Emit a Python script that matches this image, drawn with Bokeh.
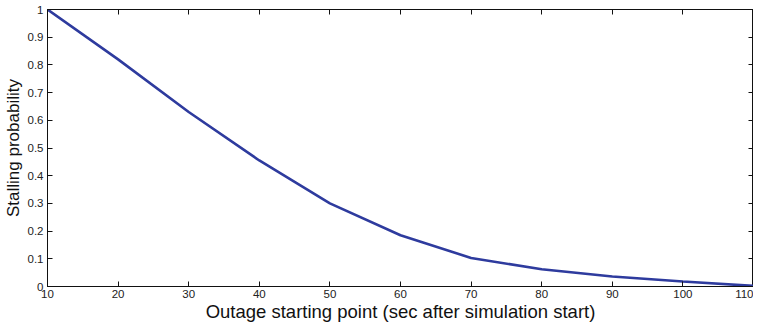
from bokeh.plotting import figure
from bokeh.models import Range1d, FixedTicker, LinearAxis, NumeralTickFormatter
from bokeh.embed import file_html
from bokeh.resources import INLINE

# Data
outage_start = [10, 20, 30, 40, 50, 60, 70, 80, 90, 100, 110]
stall_prob = [1.0, 0.82, 0.63, 0.455, 0.30, 0.185, 0.103, 0.062, 0.036, 0.018, 0.002]
x_ticks = [10, 20, 30, 40, 50, 60, 70, 80, 90, 100, 110]
y_ticks = [0, 0.1, 0.2, 0.3, 0.4, 0.5, 0.6, 0.7, 0.8, 0.9, 1.0]

FONT = "Liberation Sans"

p = figure(frame_width=706, frame_height=277, output_backend="svg", toolbar_location=None,
           x_range=Range1d(10, 110), y_range=Range1d(0, 1),
           min_border_left=36, min_border_right=0, min_border_top=9, min_border_bottom=0)

p.background_fill_color = "white"
p.border_fill_color = "white"
p.outline_line_color = "#111111"
p.outline_line_width = 1
p.grid.visible = False

p.line(outage_start, stall_prob, line_color="#2E3B9E", line_width=2.6)

def style_axis(ax, ticks, labels=True):
    ax.ticker = FixedTicker(ticks=ticks)
    ax.major_tick_in = 5
    ax.major_tick_out = 0
    ax.minor_tick_in = 0
    ax.minor_tick_out = 0
    ax.axis_line_color = "#111111"
    ax.major_tick_line_color = "#111111"
    if labels:
        ax.major_label_text_font = FONT
        ax.major_label_text_font_size = "11.5px"
        ax.major_label_text_color = "#222222"
        ax.axis_label_text_font = FONT
        ax.axis_label_text_font_size = "17px"
        ax.axis_label_text_font_style = "normal"
        ax.axis_label_text_color = "#111111"
    else:
        ax.major_label_text_color = None
        ax.major_label_text_font_size = "1px"
        ax.major_label_standoff = 0
        ax.axis_label = None

xa = p.xaxis[0]
style_axis(xa, x_ticks)
xa.axis_label = "Outage starting point (sec after simulation start)"
xa.axis_label_text_font_size = "18.5px"
xa.major_label_standoff = 3
xa.axis_label_standoff = 0

ya = p.yaxis[0]
style_axis(ya, y_ticks)
ya.formatter = NumeralTickFormatter(format="0.[0]")
ya.axis_label = "Stalling probability"
ya.major_label_standoff = 4
ya.axis_label_standoff = 2

top = LinearAxis()
style_axis(top, x_ticks, labels=False)
p.add_layout(top, "above")

right = LinearAxis()
style_axis(right, y_ticks, labels=False)
p.add_layout(right, "right")

open("out.html", "w").write(file_html(p, INLINE))
